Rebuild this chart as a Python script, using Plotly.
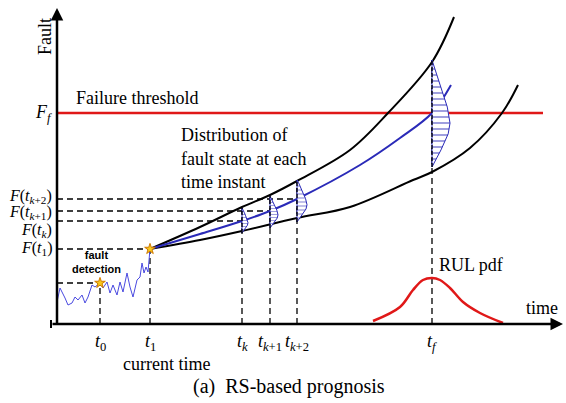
import plotly.graph_objects as go

# ---- data (time T, fault F) ----
instants = {"t0": 43, "t1": 93, "tk": 185, "tk1": 213, "tk2": 240, "tf": 375}
F_f = 211
F_vals = {"t0": 41, "t1": 75, "tk": 103, "tk1": 113, "tk2": 125}

signal_T = [0, 3, 8, 11, 15, 18, 21, 25, 28, 31, 35, 38, 43, 46, 50, 53, 56, 60, 63, 66,
            70, 73, 76, 80, 83, 85, 87, 89, 91, 92, 93]
signal_F = [22, 36, 26, 19, 21, 27, 24, 29, 21, 27, 39, 37, 41, 36, 42, 31, 39, 29, 42, 32,
            51, 37, 27, 44, 47, 61, 51, 57, 52, 67, 75]

upper_T = [93, 143, 185, 213, 240, 293, 331, 375, 397]
upper_F = [75, 97, 117, 129, 143, 174, 211, 262, 307]
mid_T = [93, 143, 185, 213, 240, 303, 343, 375, 394]
mid_F = [75, 90, 103, 113, 125, 159, 186, 211, 239]
lower_T = [93, 143, 185, 240, 293, 356, 375, 413, 445, 461]
lower_F = [75, 84, 93, 106, 117, 144, 152, 176, 211, 239]

rul_T = [316, 343, 356, 366, 375, 383, 393, 406, 423, 446]
rul_F = [3, 17, 34, 44, 46, 44, 36, 22, 11, 1]

# normalized pdf profile (position along spine, relative width)
prof_s = [0, 0.16, 0.31, 0.41, 0.56, 0.69, 0.81, 0.94, 1]
prof_w = [0, 0.5, 0.9, 1, 0.85, 0.6, 0.4, 0.15, 0]
# (instant, bottom, top, width, hatch size)
pdfs = [("tk", 91, 116, 6, 3), ("tk1", 96, 128, 8, 3), ("tk2", 102, 144, 10, 4),
        ("tf", 157, 264, 18, 6)]
vtops = {"t0": 41, "t1": 75, "tk": 116, "tk1": 128, "tk2": 144, "tf": 264}

SERIF = "Times New Roman, Liberation Serif, serif"
BLUE = "#2a2ab8"
RED = "#e01818"

fig = go.Figure()
dash = "6px,4px"

# dashed guides
for k, fv in F_vals.items():
    fig.add_trace(go.Scatter(x=[0, instants[k]], y=[fv, fv], mode="lines",
                             line=dict(color="black", width=1.3, dash=dash)))
for k, top in vtops.items():
    fig.add_trace(go.Scatter(x=[instants[k], instants[k]], y=[0, top], mode="lines",
                             line=dict(color="black", width=1.3, dash=dash)))

# threshold
fig.add_trace(go.Scatter(x=[0, 486], y=[F_f, F_f], mode="lines", line=dict(color=RED, width=2.5)))

# curves
fig.add_trace(go.Scatter(x=upper_T, y=upper_F, mode="lines", line=dict(color="black", width=2, shape="spline")))
fig.add_trace(go.Scatter(x=lower_T, y=lower_F, mode="lines", line=dict(color="black", width=2, shape="spline")))
fig.add_trace(go.Scatter(x=mid_T, y=mid_F, mode="lines", line=dict(color=BLUE, width=2, shape="spline")))

# pdfs
for k, bot, top, w, hs in pdfs:
    t = instants[k]
    xs = [t + w * p for p in prof_w] + [t]
    ys = [bot + (top - bot) * s for s in prof_s] + [bot]
    fig.add_trace(go.Scatter(x=xs, y=ys, mode="lines", fill="toself", fillcolor="white",
                             fillpattern=dict(shape="-", fgcolor=BLUE, bgcolor="white", size=hs, solidity=0.3),
                             line=dict(color=BLUE, width=1)))
    fig.add_trace(go.Scatter(x=[t, t], y=[bot, top], mode="lines",
                             line=dict(color="black", width=1.3, dash="4px,2px")))

# signal
fig.add_trace(go.Scatter(x=signal_T, y=signal_F, mode="lines", line=dict(color="#4a4ae0", width=1)))
fig.add_trace(go.Scatter(x=[instants["t0"], instants["t1"]], y=[F_vals["t0"], F_vals["t1"]], mode="markers",
                         marker=dict(symbol="star", size=8, color="#f7c81e", line=dict(color="#d07a00", width=1))))

# RUL pdf
fig.add_trace(go.Scatter(x=rul_T, y=rul_F, mode="lines", line=dict(color=RED, width=2.5, shape="spline")))

# axes arrows
fig.add_annotation(x=0, y=316, ax=0, ay=-2, xref="x", yref="y", axref="x", ayref="y", text="",
                   showarrow=True, arrowhead=2, arrowwidth=2.5, arrowsize=1, arrowcolor="black")
fig.add_annotation(x=506, y=0, ax=-6, ay=0, xref="x", yref="y", axref="x", ayref="y", text="",
                   showarrow=True, arrowhead=2, arrowwidth=2.5, arrowsize=1, arrowcolor="black")
fig.add_trace(go.Scatter(x=[-6, -6], y=[-4, 4], mode="lines", line=dict(color="black", width=2)))


def txt(x, y, s, size=17, xa="left", ya="middle", angle=0, family=SERIF, color="black"):
    fig.add_annotation(x=x, y=y, text=s, showarrow=False, xanchor=xa, yanchor=ya, textangle=angle,
                       font=dict(family=family, size=size, color=color))


txt(-12, 287, "Fault", 18, xa="center", angle=-90)
txt(-3, 211, "<i>F</i><sub><i>f</i></sub>", 18, xa="right")
txt(17, 226, "Failure threshold", 18)
txt(122, 189, "Distribution of", 18)
txt(122, 165, "fault state at each", 18)
txt(122, 142, "time instant", 18)
txt(-3, 128, "<i>F</i>(<i>t</i><sub><i>k</i>+2</sub>)", 16, xa="right")
txt(-3, 112, "<i>F</i>(<i>t</i><sub><i>k</i>+1</sub>)", 16, xa="right")
txt(-3, 94, "<i>F</i>(<i>t</i><sub><i>k</i></sub>)", 16, xa="right")
txt(-3, 76, "<i>F</i>(<i>t</i><sub>1</sub>)", 16, xa="right")
txt(39, 62, "<b>fault<br>detection</b>", 11, xa="center", family="Arial, Liberation Sans, sans-serif")
ticklabels = {"t0": "<i>t</i><sub>0</sub>", "t1": "<i>t</i><sub>1</sub>", "tk": "<i>t<sub>k</sub></i>",
              "tk1": "<i>t</i><sub><i>k</i>+1</sub>", "tk2": "<i>t</i><sub><i>k</i>+2</sub>",
              "tf": "<i>t<sub>f</sub></i>"}
for k, s in ticklabels.items():
    txt(instants[k], -18, s, 18, xa="center")
txt(109, -40, "current time", 18, xa="center")
txt(232, -62, "(a)  RS-based prognosis", 20, xa="center")
txt(380, 59, "RUL pdf", 18)
txt(467, 16, "time", 18)

fig.update_layout(width=566, height=403, margin=dict(l=0, r=0, t=0, b=0),
                  paper_bgcolor="white", plot_bgcolor="white", showlegend=False,
                  xaxis=dict(range=[-57, 509], visible=False, fixedrange=True),
                  yaxis=dict(range=[-79, 324], visible=False, fixedrange=True))
fig.write_html("out.html", config={"displayModeBar": False},
               post_script="document.body.style.margin='0';")
